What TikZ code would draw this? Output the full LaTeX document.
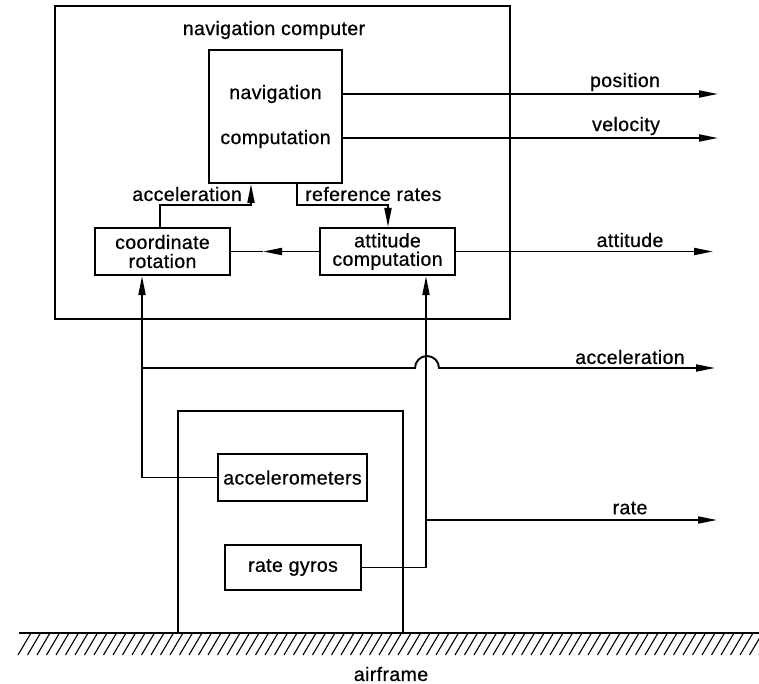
\documentclass[tikz,border=0pt]{standalone}
\usepackage{fontspec}
\setmainfont{Liberation Sans}[FakeBold=0.7,LetterSpace=2]
\usetikzlibrary{arrows.meta}
\begin{document}
\begin{tikzpicture}[x=1pt,y=-1pt,
  every node/.style={font=\fontsize{19.5}{19}\selectfont},
  box/.style={draw,line width=2pt,rectangle,inner sep=0pt,align=center},
  wire/.style={line width=1.9pt},
  arr/.style={wire,-{Triangle[length=19pt,width=7pt]}},
  lbl/.style={inner sep=0pt}]
\useasboundingbox (0,0) rectangle (759,684);
% boxes
\node[box,minimum width=455pt,minimum height=313pt] (navcomp) at (282.5,162.5) {};
\node[lbl] (navtitle) at (274,30) {navigation computer};
\node[box,minimum width=133pt,minimum height=133pt] (navbox) at (275.5,116.5) {};
\node[lbl] (navt1) at (275.5,94) {navigation};
\node[lbl] (navt2) at (275.5,139) {computation};
\node[box,minimum width=135pt,minimum height=47pt,font=\fontsize{19.5}{19}\selectfont] (coord) at (162.5,251.5) {coordinate\\rotation};
\node[box,minimum width=135pt,minimum height=47pt,font=\fontsize{19.5}{18.5}\selectfont] (att) at (387.5,251.5) {attitude\\computation};
\node[box,minimum width=149pt,minimum height=47pt] (accel) at (292.5,477.5) {accelerometers};
\node[box,minimum width=136pt,minimum height=45pt] (gyros) at (293,567.5) {rate gyros};
% airframe housing and ground
\draw[line width=2pt] (178,633) |- (403,411) -- (403,633);
\draw[line width=2.2pt] (19,633) -- (759,633);
\begin{scope}
\clip (0,633) rectangle (759,660);
\foreach \i in {0,...,79} {
  \draw[line width=1.1pt] ({18+9.5*\i},655) -- ({31+9.5*\i},633);
}
\end{scope}
\node[lbl] (airframe) at (391,674) {airframe};
% free ends
\coordinate (posE) at (718,94);
\coordinate (velE) at (718,138);
\coordinate (attE) at (713,252);
\coordinate (accE) at (715,368);
\coordinate (rateE) at (717,520);
\coordinate (a1) at (160,205);
\coordinate (a2) at (251,205);
\coordinate (r1) at (297,205);
\coordinate (r2) at (388,205);
\coordinate (mid) at (263,251.5);
\coordinate (ax) at (142,368);
\coordinate (gx) at (426,520);
% outputs
\draw[arr] (navbox.east |- posE) -- (posE);
\draw[arr] (navbox.east |- velE) -- (velE);
\draw[arr] (att.east) -- (att.east -| attE);
\node[lbl] (lpos) at (625,82) {position};
\node[lbl] (lvel) at (626,126) {velocity};
\node[lbl] (latt) at (630,240) {attitude};
\node[lbl] (lacc) at (630,357) {acceleration};
\node[lbl] (lrate) at (630,508) {rate};
% internal links
\draw[arr] (coord.north -| a1) -- (a1) -- (a2) -- (navbox.south -| a2);
\node[lbl,anchor=east] (lacc1) at (242,194) {acceleration};
\draw[arr] (navbox.south -| r1) -- (r1) -- (r2) -- (att.north -| r2);
\node[lbl,anchor=west] (lref) at (305,194) {reference rates};
\draw[arr] (att.west) -- (mid);
\draw[wire] (mid) -- (coord.east);
% sensor links
\draw[arr] (accel.west) -| (coord.south -| ax);
\draw[arr] (ax) -- (415,368) arc (180:0:12pt) -- (accE);
\draw[arr] (gyros.east) -| (att.south -| gx);
\draw[arr] (gx) -- (rateE);
\end{tikzpicture}
\end{document}
